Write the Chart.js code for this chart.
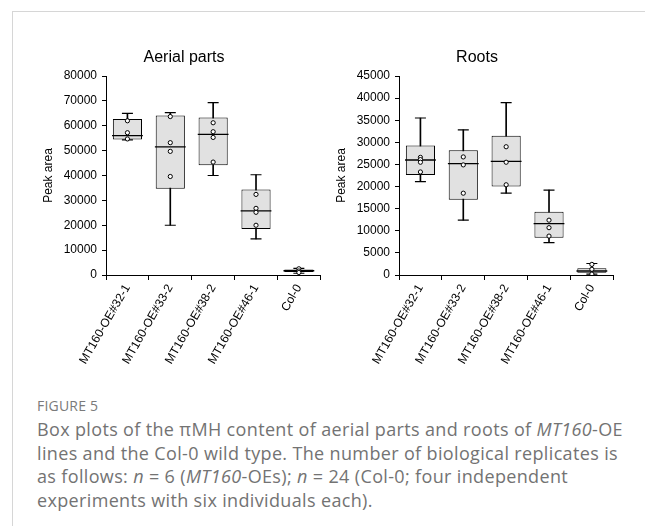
<!DOCTYPE html>
<html>
<head>
<meta charset="utf-8">
<script src="https://cdn.jsdelivr.net/npm/chart.js@4.4.1/dist/chart.umd.min.js"></script>
<style>
  html, body { margin:0; padding:0; background:#fff; }
  body { width:645px; height:526px; position:relative; overflow:hidden; }
  #frameTop { position:absolute; left:12px; top:11px; width:640px; height:0; border-top:1px solid #d6d6d6; }
  #frameLeft { position:absolute; left:12px; top:11px; width:0; height:520px; border-left:1px solid #d6d6d6; }
  .panel { position:absolute; top:0; width:300px; height:390px; }
  #p1 { left:37px; }
  #p2 { left:330px; }
  #figlabel { position:absolute; left:37px; top:396px; font-family:"Open Sans", sans-serif; font-size:14px; color:#7a7a7a; letter-spacing:0.2px; }
  #caption { position:absolute; left:37px; top:418px; font-family:"Open Sans", sans-serif; font-size:18px; letter-spacing:0.35px; line-height:23.7px; color:#737373; white-space:nowrap; }
</style>
</head>
<body>
<div id="frameTop"></div>
<div id="frameLeft"></div>
<div class="panel" id="p1"><canvas id="c1"></canvas></div>
<div class="panel" id="p2"><canvas id="c2"></canvas></div>
<div id="figlabel">FIGURE 5</div>
<div id="caption">Box plots of the πMH content of aerial parts and roots of <i>MT160</i>-OE<br>lines and the Col-0 wild type. The number of biological replicates is<br>as follows: <i>n</i> = 6 (<i>MT160</i>-OEs); <i>n</i> = 24 (Col-0; four independent<br>experiments with six individuals each).</div>
<script>
// ---- data ----
const categories = ['MT160-OE#32-1', 'MT160-OE#33-2', 'MT160-OE#38-2', 'MT160-OE#46-1', 'Col-0'];

const aerialMin    = [54300, 20000, 40000, 14500,  700];
const aerialQ1     = [54500, 34700, 44100, 18500, 1200];
const aerialMedian = [56000, 51500, 56500, 25800, 1700];
const aerialQ3     = [62700, 64100, 63300, 34400, 2200];
const aerialMax    = [65000, 65300, 69300, 40300, 2700];
const aerialPoints = [
  [62000, 57200, 54700],
  [63700, 53200, 49700, 39600],
  [61200, 57600, 55300, 45400],
  [32400, 26800, 25200, 20000],
  [2500, 1600, 1000]
];

const rootsMin    = [21100, 12400, 18500,  7300,  200];
const rootsQ1     = [22600, 17000, 20000,  8400,  500];
const rootsMedian = [26000, 25200, 25700, 11600,  900];
const rootsQ3     = [29300, 28200, 31500, 14300, 1500];
const rootsMax    = [35500, 32800, 39000, 19200, 2600];
const rootsPoints = [
  [26600, 26100, 25500, 23300],
  [26700, 24900, 18500],
  [29000, 25500, 20400],
  [12400, 10700, 8800],
  [2400, 1300, 200]
];

const aerialTicks = { max: 80000, step: 10000 };
const rootsTicks  = { max: 45000, step: 5000 };

// ---- chart ----
Chart.defaults.font.family = '"Liberation Sans", Arial, sans-serif';
Chart.defaults.font.size = 12;
Chart.defaults.color = '#000';

function buildChart(canvasId, title, mins, q1, med, q3, maxs, pts, tickCfg) {
  const pointData = [];
  pts.forEach((arr, i) => arr.forEach(v => pointData.push({ x: categories[i], y: v })));
  const medData = med.map((v, i) => ({ x: categories[i], y: v }));
  const capData = [];
  mins.forEach((v, i) => capData.push({ x: categories[i], y: v }));
  maxs.forEach((v, i) => capData.push({ x: categories[i], y: v }));

  return new Chart(document.getElementById(canvasId), {
    type: 'bar',
    data: {
      labels: categories,
      datasets: [
        { // whiskers
          type: 'bar', data: mins.map((v, i) => [v, maxs[i]]),
          backgroundColor: '#000', borderWidth: 0, barThickness: 1, grouped: false, order: 4
        },
        { // boxes
          type: 'bar', data: q1.map((v, i) => [v, q3[i]]),
          backgroundColor: '#e1e1e1', borderColor: '#000', borderWidth: 1, borderSkipped: false,
          barPercentage: 0.68, categoryPercentage: 1, grouped: false, order: 3
        },
        { // medians
          type: 'line', data: medData, showLine: false,
          pointStyle: 'line', pointRadius: 15.4, pointBorderWidth: 1.3,
          pointBorderColor: '#000', order: 2
        },
        { // whisker caps
          type: 'line', data: capData, showLine: false,
          pointStyle: 'line', pointRadius: 5.5, pointBorderWidth: 1.2,
          pointBorderColor: '#000', order: 2
        },
        { // individual points
          type: 'line', data: pointData, showLine: false,
          pointStyle: 'circle', pointRadius: 2.1, pointBorderWidth: 1,
          pointBackgroundColor: '#fff', pointBorderColor: '#000', order: 1
        }
      ]
    },
    options: {
      responsive: true,
      maintainAspectRatio: false,
      animation: false,
      events: [],
      layout: { padding: { left: 0, right: 6, top: 0, bottom: 0 } },
      plugins: {
        legend: { display: false },
        tooltip: { enabled: false },
        title: {
          display: true, text: title, color: '#000',
          font: { size: 16, weight: 'normal' },
          padding: { top: 48, bottom: 8.8 }
        }
      },
      scales: {
        x: {
          type: 'category',
          offset: true,
          grid: { offset: true, drawOnChartArea: false, drawTicks: true, tickLength: 5, color: '#000' },
          border: { color: '#000', width: 1 },
          ticks: { autoSkip: false, minRotation: 60, maxRotation: 60, padding: 2, color: '#000', font: { size: 12 } },
          afterFit: (s) => { s.height = 115; }
        },
        y: {
          min: 0, max: tickCfg.max,
          grid: { drawOnChartArea: false, drawTicks: true, tickLength: 4, color: '#000' },
          border: { color: '#000', width: 1 },
          ticks: { stepSize: tickCfg.step, padding: 5, color: '#000', callback: (v) => String(v) },
          title: { display: true, text: 'Peak area', color: '#000', font: { size: 12 } },
          afterFit: (s) => { s.width = 69; }
        }
      }
    }
  });
}

buildChart('c1', 'Aerial parts', aerialMin, aerialQ1, aerialMedian, aerialQ3, aerialMax, aerialPoints, aerialTicks);
buildChart('c2', 'Roots', rootsMin, rootsQ1, rootsMedian, rootsQ3, rootsMax, rootsPoints, rootsTicks);
</script>
</body>
</html>
